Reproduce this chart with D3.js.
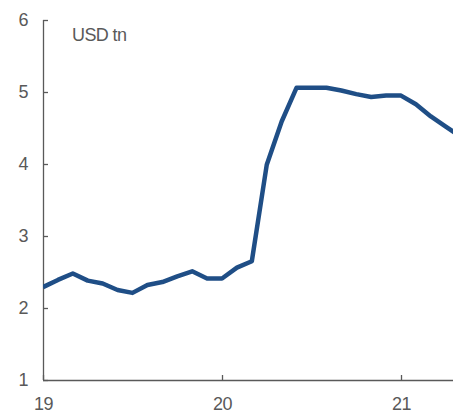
<!DOCTYPE html>
<html>
<head>
<meta charset="utf-8">
<script src="https://cdn.jsdelivr.net/npm/d3@7"></script>
<style>
  html, body { margin: 0; padding: 0; background: #fff; }
  svg { display: block; }
  text { font-family: "Liberation Sans", Arial, sans-serif; }
</style>
</head>
<body>
<div id="chart"></div>
<script>
// Monthly index (0 = Jan 2019)
const months = [0,1,2,3,4,5,6,7,8,9,10,11,12,13,14,15,16,17,18,19,20,21,22,23,24,25,26,27,28];
const values = [2.29,2.39,2.48,2.38,2.34,2.25,2.21,2.32,2.36,2.44,2.51,2.41,2.41,2.56,2.65,3.99,4.59,5.06,5.06,5.06,5.02,4.97,4.93,4.95,4.95,4.83,4.66,4.52,4.38];
const xTickPos = [0, 12, 24];
const xTickLabels = ["19", "20", "21"];
const yTicks = [1, 2, 3, 4, 5, 6];
const unitLabel = "USD tn";

(function () {
const W = 453, H = 414;
const mLeft = 43, mRight = 453, mTop = 20, mBottom = 380;
const gray = "#595959";

const svg = d3.select("#chart").append("svg").attr("width", W).attr("height", H);

const x = d3.scaleLinear().domain([0, (mRight - mLeft) / 14.917]).range([mLeft, mRight]);
const y = d3.scaleLinear().domain([1, 6]).range([mBottom, mTop]);

svg.append("defs").append("clipPath").attr("id", "clip")
  .append("rect").attr("x", mLeft).attr("y", 0).attr("width", mRight - mLeft).attr("height", H);

// Y axis
const yAxis = svg.append("g").attr("transform", `translate(${mLeft},0)`)
  .call(d3.axisRight(y).tickValues(yTicks).tickSize(5).tickSizeOuter(0).tickFormat(d3.format("d")));
yAxis.select(".domain").attr("stroke", gray).attr("stroke-width", 1.3)
  .attr("d", `M0.5,${mTop}V${mBottom}`);
yAxis.selectAll(".tick line").attr("stroke", gray).attr("stroke-width", 1.3);
yAxis.selectAll(".tick text").attr("x", -15).attr("text-anchor", "end")
  .attr("fill", gray).attr("font-size", 18).attr("letter-spacing", "-0.5px")
  .attr("dy", "0.32em");

// X axis
const xAxis = svg.append("g").attr("transform", `translate(0,${mBottom})`)
  .call(d3.axisTop(x).tickValues(xTickPos).tickSize(5).tickSizeOuter(0)
    .tickFormat((d, i) => xTickLabels[i]));
xAxis.select(".domain").attr("stroke", gray).attr("stroke-width", 1.3)
  .attr("d", `M${mLeft},0.5H${mRight}`);
xAxis.selectAll(".tick line").attr("stroke", gray).attr("stroke-width", 1.3);
xAxis.selectAll(".tick text").attr("y", 30).attr("dy", 0)
  .attr("fill", gray).attr("font-size", 18).attr("letter-spacing", "-0.5px")
  .attr("text-anchor", "middle");

// Unit label
svg.append("text").attr("x", 72).attr("y", 41)
  .attr("fill", gray).attr("font-size", 18).attr("letter-spacing", "-0.6px")
  .text(unitLabel);

// Line
const line = d3.line().x((d, i) => x(months[i])).y(d => y(d));
svg.append("path")
  .datum(values)
  .attr("clip-path", "url(#clip)")
  .attr("fill", "none")
  .attr("stroke", "#1F4E86")
  .attr("stroke-width", 4.5)
  .attr("stroke-linejoin", "round")
  .attr("d", line);
})();
</script>
</body>
</html>
